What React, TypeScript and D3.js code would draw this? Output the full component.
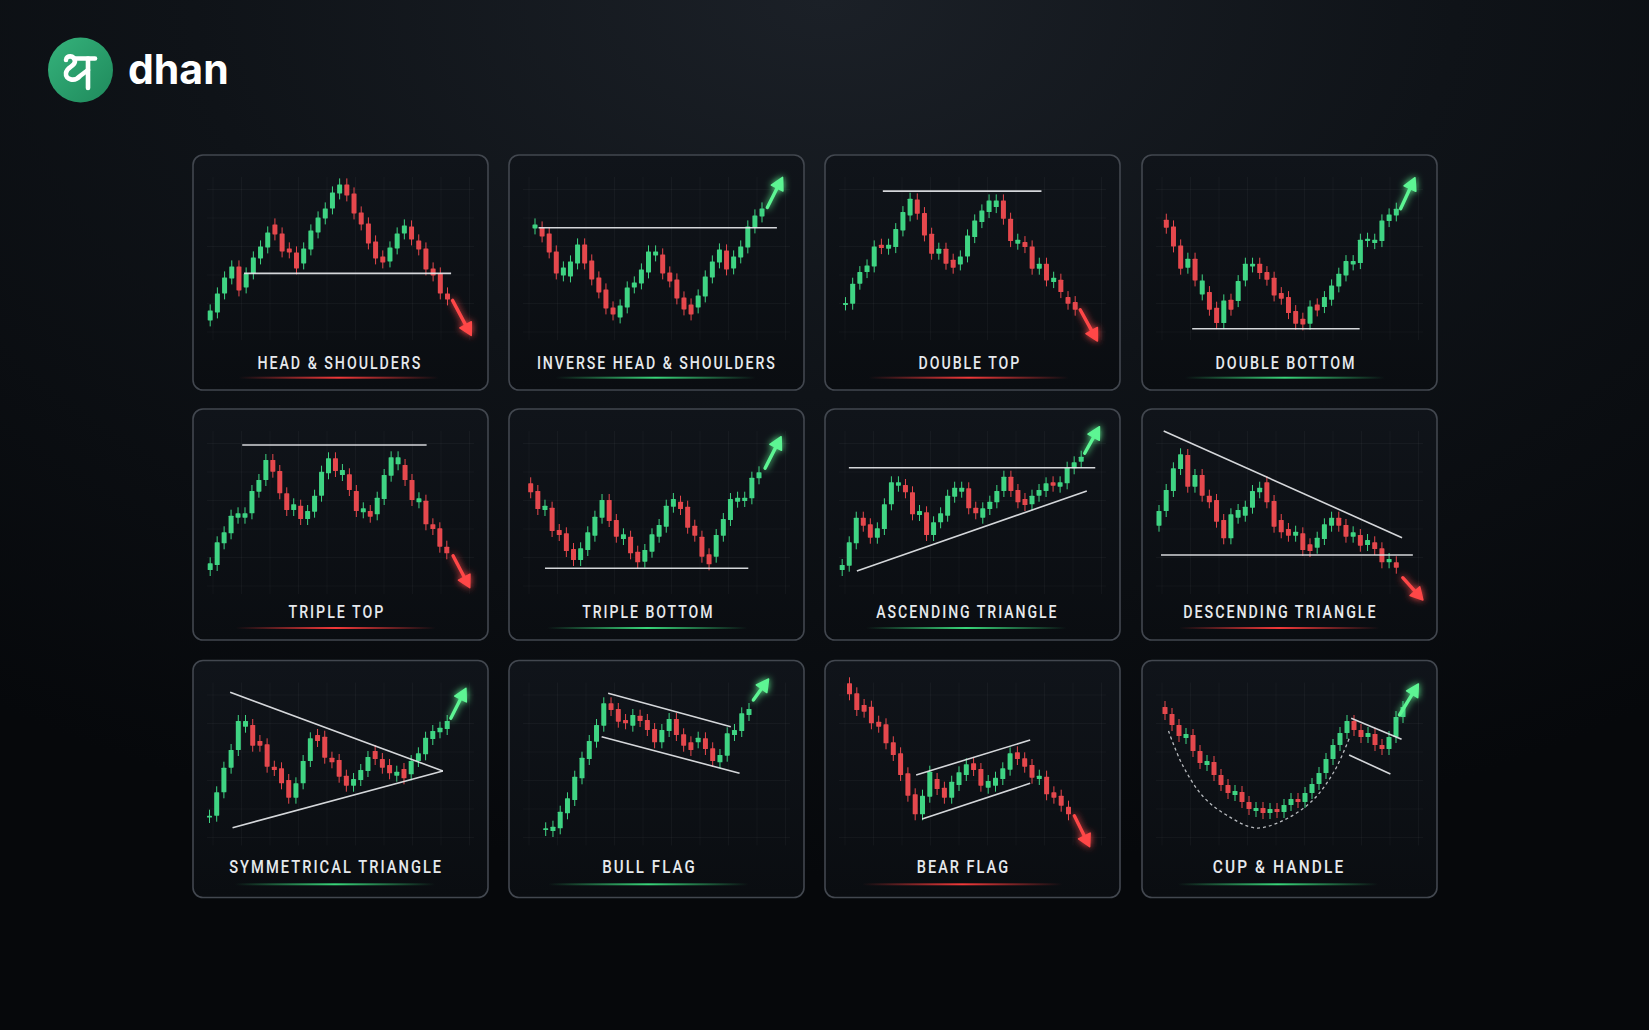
import React, { useEffect } from 'react';
import * as d3 from 'd3';

const W = 1649;
const H = 1030;
const UP = '#3fd483';
const DOWN = '#e5484d';
const ARROW_UP = '#5df593';
const ARROW_DOWN = '#ff4747';

type Candle = [number, number];
type Pt = [number, number];

// ---- pattern data: [open, close] in price units (0..200) ----
const hsCandles: Candle[] = [[30,40],[38,57],[57,73],[72,84],[84,60],[63,77],[77,93],[92,104],[103,118],[126,116],[117,99],[102,98],[98,82],[87,102],[101,120],[118,133],[132,142],[142,158],[157,166],[166,155],[157,137],[138,126],[127,107],[109,92],[94,88],[89,103],[102,117],[117,125],[124,111],[110,101],[102,81],[82,75],[77,57],[57,51]];
const hsLines: Pt[][] = [[[4.7,77],[33.5,77]]];
const hsArrow: Pt[] = [[33.7,50],[36.3,15]];

const ihsCandles: Candle[] = [[122,126],[123,114],[117,98],[99,77],[75,83],[74,89],[87,106],[106,87],[90,71],[73,58],[61,42],[43,36],[33,45],[43,63],[63,68],[67,81],[78,99],[95,99],[96,77],[78,69],[71,52],[53,41],[46,36],[43,55],[54,74],[73,89],[88,101],[100,81],[82,94],[93,104],[103,124],[123,135],[134,142]];
const ihsLines: Pt[][] = [[[0.5,122.7],[34.1,122.7]]];
const ihsArrow: Pt[] = [[32.75,143],[34.9,173]];

const dtCandles: Candle[] = [[46,47.3],[46.7,66.7],[66.7,78.3],[78.3,85],[84,104],[105.7,102.3],[101.7,105.7],[103.3,121.3],[120,138.3],[135,151.7],[151,136.7],[137.3,115],[116.7,96.7],[96.7,101.7],[101.7,86.7],[90.7,82.7],[86,94],[94,115],[113.3,130],[128.3,140],[138.3,150],[143.3,150],[150,131.7],[131.7,109.3],[106.7,110.7],[108.3,103.3],[104,81.7],[81.7,86.7],[86.7,70],[68.3,72.7],[70.7,58.3],[53.3,46.7],[48.3,40.7]];
const dtLines: Pt[][] = [[[5.2,159.3],[27.3,159.3]]];
const dtArrow: Pt[] = [[32.7,40.7],[35.1,9.3]];

const dbCandles: Candle[] = [[130.7,122.7],[124,104],[105,81.7],[82.7,91.7],[91.7,70],[56,70],[58.3,40.7],[42.7,27.3],[27.3,50],[50.7,40.7],[49.3,69.3],[70,86.7],[84,86.7],[86.7,77.3],[78.3,70.7],[72.7,55],[57.3,51.7],[53.3,37.3],[39.3,26.7],[31.7,26],[26.7,44],[46,40],[43.3,53.3],[50.7,65],[64,76.7],[75,89.3],[86,89.3],[87.3,110.7],[109.3,111.7],[107.3,110.7],[109.3,130],[129.3,136],[135,141.7]];
const dbLines: Pt[][] = [[[3.6,21.7],[26.9,21.7]]];
const dbArrow: Pt[] = [[32.6,141.7],[34.6,172.7]];

const ttCandles: Candle[] = [[35,41.7],[40,62.7],[61.7,72.7],[71.7,89.3],[87.3,91.7],[87.3,91.7],[91.7,114],[113.3,125],[125,145],[145,133.3],[134,111.7],[111.7,95],[95,100.7],[99.3,86],[86,94],[93.3,109.3],[109.3,133.3],[131.7,146.7],[146.7,134],[130,135],[130.7,115],[114,94],[92.7,96.7],[94,88.3],[90.7,107.3],[106,130],[129.3,147.7],[140.7,147.7],[140,125],[125,105],[102.7,106.7],[104.3,80.7],[80.7,76],[76.7,58.3],[58.3,51.7]];
const ttLines: Pt[][] = [[[4.6,160],[31.1,160]]];
const ttArrow: Pt[] = [[34.9,49.3],[37.3,17.3]];

const tbCandles: Candle[] = [[121.7,112.7],[114,96],[95,99.3],[97.3,74],[75,70],[71.7,54],[56,45],[45,56.7],[55,72.7],[69.3,88.3],[87.3,105],[105,84],[85,68.3],[66,70.7],[68.3,51.7],[53.3,42.7],[43.3,55],[53.3,70.7],[68.3,80],[78.3,99.3],[98.3,106],[103.3,96],[98.3,77.3],[79.3,69.3],[68.3,48.3],[50.7,40.7],[48.3,70],[69.3,86],[85,106],[103.3,107.3],[104,107.3],[106.7,127.3],[126.7,132.7]];
const tbLines: Pt[][] = [[[2.0,36.7],[30.5,36.7]]];
const tbArrow: Pt[] = [[32.85,136.7],[35.1,168.3]];

const atCandles: Candle[] = [[35,40],[39.3,62.7],[61.7,87.3],[87.3,79.3],[80.7,67.3],[67.3,76.7],[76,100.7],[100.7,122.7],[119.3,122.7],[120,112.7],[112.7,90.7],[90,94],[92.7,70],[70,82.7],[82.7,91.7],[89.3,109.3],[108.3,117.3],[113.3,117.3],[116.7,96.7],[97.3,91.7],[87.3,96.7],[96,103.3],[102.7,114],[114,128.3],[128.3,114],[115,102.7],[106,100],[100.7,109.3],[109.3,115],[114,121.7],[122.7,119.3],[118.3,122.7],[121.7,137.3],[136.7,142.7],[143.3,148.3]];
const atLines: Pt[][] = [[[0.95,137.3],[36.0,137.3]],[[2.09,34],[34.8,114]]];
const atArrow: Pt[] = [[34.5,151.7],[36.6,178.3]];

const dsCandles: Candle[] = [[79.3,94],[94,115],[114,136.7],[136,150.7],[150,118.3],[118.3,130],[130,109.3],[109.3,102.7],[105,83.3],[85,66.7],[66.7,90.7],[87.3,95],[89.3,98.3],[97.3,114],[112.7,117.3],[122.7,102.7],[104,78.3],[85,72.7],[76,69.3],[69.3,73.3],[71.7,55],[60.7,54],[57.3,67.3],[66,80.7],[79.3,87.3],[87.3,79.3],[80,68.3],[68.3,72.7],[70,59.3],[60,65],[62.7,56],[56.7,42.7],[42.7,46],[42.7,37.3]];
const dsLines: Pt[][] = [[[0.65,174],[33.8,67.3]],[[0.28,50],[35.3,50]]];
const dsArrow: Pt[] = [[33.9,27.3],[36.7,5]];

const stCandles: Candle[] = [[38,39.3],[39.3,62.7],[62.7,87.3],[87.3,105],[105,134],[128.3,134],[130,109.3],[114,109.3],[110.7,88.3],[88.3,85],[86.7,71.7],[75,57.3],[57.3,71.7],[71.7,94],[94,116.7],[120,114],[118.3,97.3],[97.3,92.7],[95,78.3],[79.3,69.3],[69.3,76],[75,85],[84,98],[104,96],[96,87.3],[90,81.7],[79.3,83.3],[86,76.7],[80.7,94],[94,101.7],[100.7,117.3],[116,124],[122.7,127.3],[126,134]];
const stLines: Pt[][] = [[[2.87,162.7],[32.4,84]],[[3.2,27.3],[32.4,84]]];
const stArrow: Pt[] = [[33.5,136.7],[35.6,166.7]];

const bfCandles: Candle[] = [[25,26.7],[24,28.3],[26.7,43.3],[41.7,56.7],[55,78.3],[76.7,97.3],[96,114],[113.3,130],[129.3,151.7],[151.7,145],[146,133.3],[135,131.7],[129.3,140],[139.3,134],[135,125],[126,112.7],[112.7,125],[124,136],[136,120],[120.7,109.3],[112.7,105],[112.7,117.3],[116.7,106],[106.7,94],[92.7,100],[99.3,121.7],[120,125],[124,141.7],[140,146]];
const bfLines: Pt[][] = [[[8.6,161.7],[25.5,128.3]],[[7.7,118.3],[26.7,81.7]]];
const bfArrow: Pt[] = [[28.6,155],[30.7,176]];

const befCandles: Candle[] = [[171.7,160.7],[161.7,145],[150,143.3],[148.3,131.7],[133.3,128.3],[130.7,111.7],[112.7,100],[101.7,80],[81.7,59.3],[60.7,40.7],[40.7,59.3],[58.3,83.3],[76,66],[67.3,57.3],[57.3,73.3],[70,82.7],[80,90.7],[91.7,85],[86,69.3],[67.3,74],[69.3,77.3],[76,86.7],[85.3,101.7],[102.7,96],[96.7,88.3],[90,77.3],[76,79.3],[78.3,60.7],[62.7,57.3],[59.3,49.3],[48.3,40.7]];
const befLines: Pt[][] = [[[9.13,80],[24.75,115]],[[9.95,36],[24.75,71.7]]];
const befArrow: Pt[] = [[30.8,39.3],[32.9,8.3]];

const chCandles: Candle[] = [[148,141],[141,130],[130,119],[117,121],[120,104],[104,92],[90,94],[93,80],[80,70],[70,62],[60,64],[63,53],[53,46],[44,47],[47,42],[42,46],[46,43],[43,50],[50,56],[56,53],[53,62],[62,71],[71,82],[82,96],[96,110],[110,122],[122,134],[134,125],[125,118],[118,122],[121,110],[110,106],[106,118],[118,138],[138,148]];
const chLines: Pt[][] = [[[26.6,136.7],[33.8,115.7]],[[26.3,100],[32.2,81]]];
const chArrow: Pt[] = [[33.5,140],[36.2,171]];
const chCup: Pt[] = [[0.5,124],[2.5,90],[5.5,58],[9,39],[13,27],[17,35],[21,54],[24.2,84],[26.4,118]];

// ---- layout ----
const colX = [193, 509, 825, 1142];
const rowY = [155, 409, 660.5];
const rowH = [235, 231, 237];
const rowOY = [4.6, 4, 5.5];
const rowLabelY = [213.7, 209.3, 212.8];
const rowGlowY = [222.7, 219, 223.8];
const CARD_W = 295;

const cards = [
  { title: 'HEAD & SHOULDERS', candles: hsCandles, lines: hsLines, arrow: hsArrow, bull: false, row: 0, col: 0, x0: 17.2, x1: 254.5, tx: 145.7, tw: 165 },
  { title: 'INVERSE HEAD & SHOULDERS', candles: ihsCandles, lines: ihsLines, arrow: ihsArrow, bull: true, row: 0, col: 1, x0: 26, x1: 253, tx: 146.7, tw: 240 },
  { title: 'DOUBLE TOP', candles: dtCandles, lines: dtLines, arrow: dtArrow, bull: false, row: 0, col: 2, x0: 20.5, x1: 250.2, tx: 143.7, tw: 102.7 },
  { title: 'DOUBLE BOTTOM', candles: dbCandles, lines: dbLines, arrow: dbArrow, bull: true, row: 0, col: 3, x0: 24.3, x1: 254.3, tx: 142.8, tw: 141 },
  { title: 'TRIPLE TOP', candles: ttCandles, lines: ttLines, arrow: ttArrow, bull: false, row: 1, col: 0, x0: 17.2, x1: 253.8, tx: 142.7, tw: 96.7 },
  { title: 'TRIPLE BOTTOM', candles: tbCandles, lines: tbLines, arrow: tbArrow, bull: true, row: 1, col: 1, x0: 21.7, x1: 250, tx: 138.2, tw: 132.3 },
  { title: 'ASCENDING TRIANGLE', candles: atCandles, lines: atLines, arrow: atArrow, bull: true, row: 1, col: 2, x0: 17.2, x1: 256.2, tx: 141.2, tw: 182.3 },
  { title: 'DESCENDING TRIANGLE', candles: dsCandles, lines: dsLines, arrow: dsArrow, bull: false, row: 1, col: 3, x0: 17, x1: 254.3, tx: 137.2, tw: 194.3 },
  { title: 'SYMMETRICAL TRIANGLE', candles: stCandles, lines: stLines, arrow: stArrow, bull: true, row: 2, col: 0, x0: 16.5, x1: 254.2, tx: 142, tw: 214 },
  { title: 'BULL FLAG', candles: bfCandles, lines: bfLines, arrow: bfArrow, bull: true, row: 2, col: 1, x0: 36.7, x1: 240, tx: 139.3, tw: 94.7 },
  { title: 'BEAR FLAG', candles: befCandles, lines: befLines, arrow: befArrow, bull: false, row: 2, col: 2, x0: 24.5, x1: 243.5, tx: 137.2, tw: 93.3 },
  { title: 'CUP & HANDLE', candles: chCandles, lines: chLines, arrow: chArrow, bull: true, row: 2, col: 3, x0: 23, x1: 261, tx: 135.8, tw: 132.5, cup: chCup },
];

const WICK = 6;
const BODY_W = 5;

function Arrow({ s, e, color }: { s: Pt; e: Pt; color: string }) {
  const dx = e[0] - s[0];
  const dy = e[1] - s[1];
  const len = Math.hypot(dx, dy);
  const ux = dx / len, uy = dy / len;
  const nx = -uy, ny = ux;
  const hl = 12, hw = 13;
  const bx = e[0] - ux * hl, by = e[1] - uy * hl;
  const head = `M${e[0]},${e[1]} L${bx + nx * hw / 2},${by + ny * hw / 2} L${bx - nx * hw / 2},${by - ny * hw / 2} Z`;
  return (
    <g filter={color === ARROW_UP ? 'url(#glowG)' : 'url(#glowR)'}>
      <line x1={s[0]} y1={s[1]} x2={bx + ux * 2} y2={by + uy * 2} stroke={color} strokeWidth={3.4} strokeLinecap="round" />
      <path d={head} fill={color} stroke={color} strokeWidth={1.5} strokeLinejoin="round" />
    </g>
  );
}

function Card({ c }: { c: any }) {
  const cx = colX[c.col];
  const cy = rowY[c.row];
  const h = rowH[c.row];
  const oy = rowOY[c.row];
  const x = d3.scaleLinear().domain([0, c.candles.length - 1]).range([c.x0, c.x1]);
  const y = d3.scaleLinear().domain([0, 200]).range([200 - oy, -oy]);
  const line = d3.line<Pt>().x((d) => x(d[0])).y((d) => y(d[1]));
  const cupLine = d3.line<Pt>().x((d) => x(d[0])).y((d) => y(d[1])).curve(d3.curveCatmullRom.alpha(0.5));
  const gridH = d3.range(6).map((k) => 34.5 + k * 28.5);
  const gridV = d3.range(10).map((k) => 20 + k * 28.5);
  const labelY = rowLabelY[c.row];
  const glowY = rowGlowY[c.row];
  const arrowColor = c.bull ? ARROW_UP : ARROW_DOWN;
  return (
    <g transform={`translate(${cx},${cy})`}>
      <rect x={0} y={0} width={CARD_W} height={h} rx={10} fill="url(#cardFill)" stroke="#42474f" strokeWidth={1.6} />
      <g stroke="#ffffff" strokeOpacity={0.035} strokeWidth={1}>
        {gridH.map((g, i) => (
          <line key={'h' + i} x1={14} x2={CARD_W - 14} y1={g} y2={g} />
        ))}
        {gridV.map((g, i) => (
          <line key={'v' + i} x1={g} x2={g} y1={22} y2={185} />
        ))}
      </g>
      {c.cup && (
        <path d={cupLine(c.cup) || ''} fill="none" stroke="#e3e6ea" strokeOpacity={0.8} strokeWidth={1.3} strokeDasharray="3 3" />
      )}
      {c.candles.map((d: Candle, i: number) => {
        const [o, cl] = d;
        const up = cl >= o;
        const col = up ? UP : DOWN;
        const hi = Math.max(o, cl);
        const lo = Math.min(o, cl);
        const top = y(hi);
        const bh = Math.max(1.8, y(lo) - top);
        const xc = x(i);
        return (
          <g key={i}>
            <line x1={xc} x2={xc} y1={y(hi + WICK)} y2={y(lo - WICK)} stroke={col} strokeWidth={1} />
            <rect x={xc - BODY_W / 2} y={top} width={BODY_W} height={bh} fill={col} rx={0.6} />
          </g>
        );
      })}
      {c.lines.map((l: Pt[], i: number) => (
        <path key={i} d={line(l) || ''} stroke="#e6e8ec" strokeWidth={1.6} strokeOpacity={0.92} fill="none" />
      ))}
      <Arrow s={[x(c.arrow[0][0]), y(c.arrow[0][1])]} e={[x(c.arrow[1][0]), y(c.arrow[1][1])]} color={arrowColor} />
      <text
        x={c.tx + 1.2}
        y={labelY}
        textAnchor="middle"
        fontFamily="Roboto, 'DejaVu Sans', sans-serif"
        fontWeight={500}
        fontSize={18.8}
        letterSpacing={2.6}
        fill="#e6e9ed"
        textLength={c.tw}
        lengthAdjust="spacingAndGlyphs"
      >
        {c.title}
      </text>
      <rect x={c.tx - 100} y={glowY - 1} width={200} height={2} fill={c.bull ? 'url(#lineG)' : 'url(#lineR)'} />
    </g>
  );
}

export default function App() {
  useEffect(() => {
    document.body.style.margin = '0';
    document.body.style.background = '#07090c';
  }, []);
  return (
    <svg width={W} height={H} viewBox={`0 0 ${W} ${H}`} style={{ position: 'absolute', left: 0, top: 0, display: 'block' }}>
      <defs>
        <radialGradient id="bg" cx="50%" cy="0%" r="85%" fx="50%" fy="0%">
          <stop offset="0%" stopColor="#1b2027" />
          <stop offset="45%" stopColor="#0f1318" />
          <stop offset="100%" stopColor="#06080b" />
        </radialGradient>
        <linearGradient id="cardFill" x1="0" y1="0" x2="0" y2="1">
          <stop offset="0%" stopColor="#10141a" />
          <stop offset="100%" stopColor="#0a0d11" />
        </linearGradient>
        <linearGradient id="lineR" x1="0" y1="0" x2="1" y2="0">
          <stop offset="0%" stopColor="#ff3b3b" stopOpacity={0} />
          <stop offset="50%" stopColor="#ff3b3b" stopOpacity={0.95} />
          <stop offset="100%" stopColor="#ff3b3b" stopOpacity={0} />
        </linearGradient>
        <linearGradient id="lineG" x1="0" y1="0" x2="1" y2="0">
          <stop offset="0%" stopColor="#3be07f" stopOpacity={0} />
          <stop offset="50%" stopColor="#3be07f" stopOpacity={0.95} />
          <stop offset="100%" stopColor="#3be07f" stopOpacity={0} />
        </linearGradient>
        <linearGradient id="logoG" x1="0" y1="0" x2="1" y2="1">
          <stop offset="0%" stopColor="#35b27b" />
          <stop offset="100%" stopColor="#1f8a5c" />
        </linearGradient>
        <filter id="glowR" x="-100%" y="-100%" width="300%" height="300%">
          <feGaussianBlur in="SourceGraphic" stdDeviation="3.5" result="b" />
          <feMerge>
            <feMergeNode in="b" />
            <feMergeNode in="SourceGraphic" />
          </feMerge>
        </filter>
        <filter id="glowG" x="-100%" y="-100%" width="300%" height="300%">
          <feGaussianBlur in="SourceGraphic" stdDeviation="3.5" result="b" />
          <feMerge>
            <feMergeNode in="b" />
            <feMergeNode in="SourceGraphic" />
          </feMerge>
        </filter>
      </defs>
      <rect x={0} y={0} width={W} height={H} fill="url(#bg)" />

      {/* logo */}
      <g>
        <circle cx={80.5} cy={70} r={32.5} fill="url(#logoG)" />
        <g fill="none" stroke="#ffffff" strokeWidth={4.6} strokeLinecap="round" strokeLinejoin="round">
          <path d="M74 58.5 H95" />
          <path d="M88 58.5 V88" />
          <path d="M66 60 C66 55, 75 55, 75 61 C75 67, 67 66, 66 73 C65 80, 75 82, 80 76 L88 70" />
        </g>
        <text x={128} y={84} fontFamily="Inter, 'Open Sans', sans-serif" fontWeight={700} fontSize={41} fill="#ffffff">
          dhan
        </text>
      </g>

      {cards.map((c, i) => (
        <Card key={i} c={c} />
      ))}
    </svg>
  );
}
